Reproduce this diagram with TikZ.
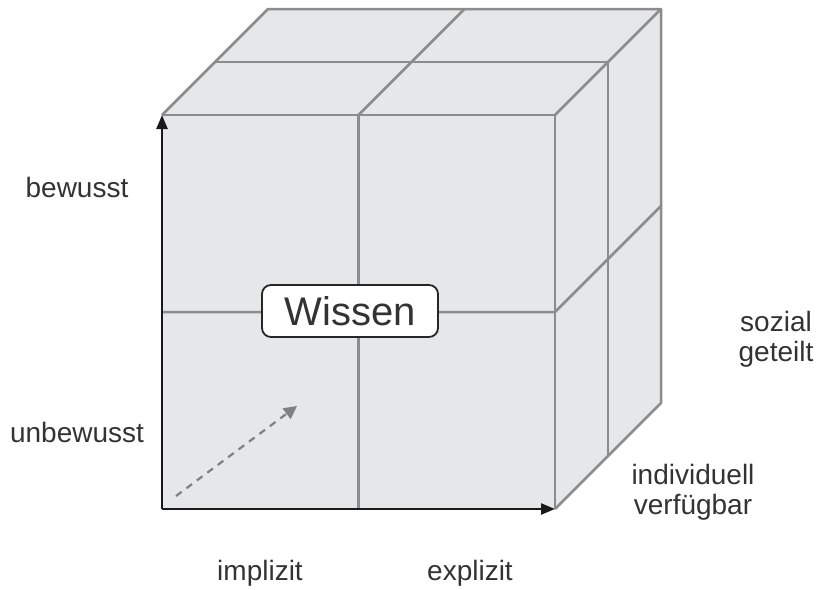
\documentclass[tikz,border=0pt]{standalone}
\usepackage{fontspec}
\setmainfont{Liberation Sans}
\usetikzlibrary{arrows.meta}
\definecolor{cubefill}{HTML}{E6E7E8}
\definecolor{cubeline}{HTML}{8C8C8C}
\definecolor{labeltext}{HTML}{333333}

\begin{document}
\begin{tikzpicture}[
		x=1pt, y=-1pt,
		edge/.style={draw=cubeline, line width=2.5pt, line join=round},
		axis/.style={-{Triangle[length=14pt, width=11pt]}, line width=2.4pt, black!90},
		axislabel/.style={
				inner sep=0pt,
				text=labeltext,
				font=\fontsize{28}{30}\selectfont,
				align=center
			}
	]
	\useasboundingbox (0,0) rectangle (819,589);

	% corners of the cube
	\coordinate (ftl) at (162,115);
	\coordinate (ftr) at (555,115);
	\coordinate (fbr) at (555,509);
	\coordinate (fbl) at (162,509);
	\coordinate (btl) at (268,9);
	\coordinate (btr) at (661,9);
	\coordinate (bbr) at (661,403);
	% middle lines
	\coordinate (ftm) at (358.5,115);
	\coordinate (fbm) at (358.5,509);
	\coordinate (flm) at (162,312);
	\coordinate (frm) at (555,312);
	\coordinate (mtl) at (215,62);
	\coordinate (mtr) at (608,62);
	\coordinate (btm) at (464.5,9);
	\coordinate (mbr) at (608,456);
	\coordinate (brm) at (661,206);

	\fill[cubefill] (fbl) -- (ftl) -- (btl) -- (btr) -- (bbr) -- (fbr) -- cycle;

	\draw[edge] (ftl) -- (btl) -- (btr) -- (bbr) -- (fbr);
	\draw[edge] (ftr) -- (btr);
	\draw[edge] (ftl) -- (ftr) -- (fbr);
	\draw[edge] (ftm) -- (fbm);
	\draw[edge] (flm) -- (frm) -- (brm);
	\draw[edge] (mtl) -- (mtr) -- (mbr);
	\draw[edge] (ftm) -- (btm);

	% axes
	\draw[axis] (fbl) -- (ftl);
	\draw[axis] (fbl) -- (fbr);

	\coordinate (depth0) at (176,496);
	\coordinate (depth1) at (297,406);
	\draw[draw=black!50, line width=2.2pt, dash pattern=on 7pt off 6pt,
		-{Triangle[length=13pt, width=13pt]}] (depth0) -- (depth1);

	\node[
		draw=black!85,
		line width=1.8pt,
		fill=white,
		rounded corners=9pt,
		minimum width=176pt,
		minimum height=52pt,
		text=labeltext,
		font=\fontsize{40}{48}\selectfont
	] (wissen) at (350,311) {Wissen};

	\node[axislabel, anchor=base] (bewusst) at (77,197) {bewusst};
	\node[axislabel, anchor=base] (unbewusst) at (77,442) {unbewusst};
	\node[axislabel, anchor=base] (implizit) at (260,580) {implizit};
	\node[axislabel, anchor=base] (explizit) at (470,580) {explizit};
	\node[axislabel, anchor=north] (sozial) at (776,311) {sozial\\geteilt};
	\node[axislabel, anchor=north] (individuell) at (693,464) {individuell\\verfügbar};
\end{tikzpicture}
\end{document}
